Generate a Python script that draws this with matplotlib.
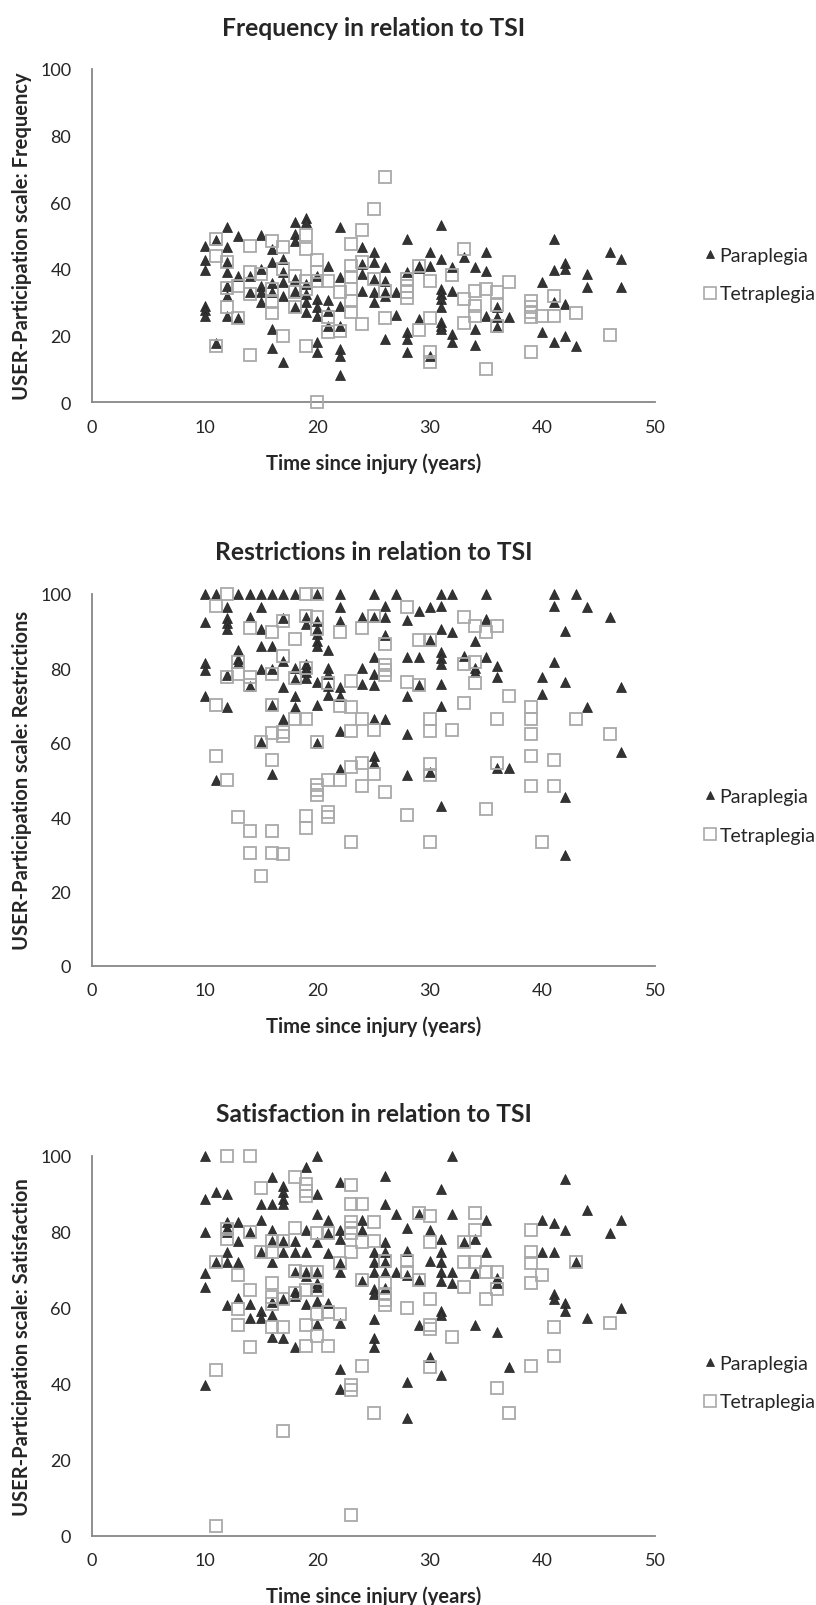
import matplotlib
matplotlib.use('Agg')
import matplotlib.pyplot as plt
from matplotlib.lines import Line2D

plt.rcParams['font.family'] = ['Lato', 'DejaVu Sans']

# time since injury (years) -> scores
freq_para = {
    10: [47, 42.7, 39.8, 29, 27.8, 25.8], 11: [48.7, 17.8],
    12: [52.5, 46.5, 42, 39, 35, 31.8, 25.8], 13: [50, 38, 25.2], 14: [38, 33],
    15: [50.3, 40, 35, 33, 30.2], 16: [46, 42, 35.8, 33, 22, 16.2],
    17: [43, 39, 36, 32, 12.2], 18: [54.2, 50.5, 48.5, 37, 33.5, 28.5],
    19: [55.2, 54, 35.5, 32.5, 30, 27], 20: [38, 31, 28.5, 26, 18, 15.2],
    21: [40.8, 30.8, 27.5, 23], 22: [52.5, 37.5, 29, 23, 16, 13.8, 8.2],
    24: [46.7, 41.5, 38.5, 33.5], 25: [45, 42, 37, 33, 30],
    26: [40.5, 36.5, 33, 32, 19], 27: [33.2, 26.2], 28: [49, 39, 21, 19, 15.2],
    29: [41, 40.2, 25], 30: [45, 40.8, 14],
    31: [53.3, 43, 34, 32.5, 31, 28.5, 24, 23, 22], 32: [40.5, 33.5, 20.5, 18.2],
    33: [43.5], 34: [40.5, 22, 17.2], 35: [45, 39.5, 26], 36: [28.5, 25.5, 22.5],
    37: [25.5], 40: [36, 21], 41: [49, 39.7, 30, 18], 42: [41.8, 40, 29.5, 19.8],
    43: [16.8], 44: [38.5, 34.5], 46: [45], 47: [43, 34.5],
}
freq_tetra = {
    11: [49, 44, 16.8], 12: [42, 34.2, 28.5], 13: [35, 25.2], 14: [47, 39, 32.5, 14.2],
    15: [38.5], 16: [48.5, 34, 30, 26.8], 17: [46.5, 40, 19.8], 18: [38, 33, 28.5],
    19: [50.3, 46, 36.5, 34, 16.8], 20: [42.8, 39, 36.5, 0], 21: [36.5, 25.5, 21],
    22: [33, 21.5], 23: [47.5, 41, 37.5, 34, 30.5, 27], 24: [51.8, 42, 23.5],
    25: [58, 37], 26: [67.5, 33.5, 25.2], 28: [37, 35, 33, 31.2], 29: [41, 21.8],
    30: [36.5, 25.2, 15.2, 12], 32: [38.2], 33: [46, 31, 23.8], 34: [33.5, 29, 26],
    35: [34, 10], 36: [33, 29.2, 23], 37: [36], 39: [30.5, 28.5, 27, 25.5, 15.2],
    40: [26], 41: [31.8, 26], 43: [26.7], 46: [20.2],
}
restr_para = {
    10: [100, 92.6, 81.4, 79.6, 72.6], 11: [100, 50],
    12: [96.4, 93.5, 92.3, 90.6, 78.3, 69.7], 13: [100, 84.8, 82.5, 81.4],
    14: [100, 93.7, 75.3], 15: [100, 96.4, 90.6, 86.1, 79.8, 60.3],
    16: [100, 86.1, 79.8, 70.1, 51.6], 17: [100, 93.5, 82, 74.9, 66.5],
    18: [100, 80, 77.1, 72.6, 69.7], 19: [93.7, 91.9, 81.2, 80, 78.9, 77.3],
    20: [100, 92.8, 90.6, 89.2, 87.4, 86.1, 76.4, 70.1, 59.9],
    21: [84.9, 80, 78.5, 75.3, 72.8], 22: [100, 96.4, 92.8, 74.9, 72.6, 63.2, 52.9],
    24: [93.7, 80, 75.8], 25: [100, 93.7, 83.1, 78.5, 75.5, 66.5, 56.5, 54.5],
    26: [96.7, 93.8, 89, 66.5], 27: [100], 28: [93.1, 83.1, 72.6, 62.3, 51.3],
    29: [95.5, 83.1, 75.5], 30: [96.4, 87.7, 52.2],
    31: [100, 96.9, 90.6, 84.5, 82.7, 81.2, 75.8, 69.8, 43], 32: [100, 89.9],
    33: [83.2], 34: [87.4, 80, 78.9], 35: [100, 93.3, 83.1], 36: [80.7, 77.6, 53.1],
    37: [53.1], 40: [77.6, 73.1], 41: [100, 96.9, 81.6], 42: [90.1, 76.4, 45.3, 29.8],
    43: [100], 44: [96.4, 69.5], 46: [93.7], 47: [74.9, 57.4],
}
restr_tetra = {
    11: [96.9, 70.1, 56.5], 12: [100, 77.8, 50], 13: [81.8, 78.5, 39.9],
    14: [90.8, 77.6, 75.5, 36.3, 30.3], 15: [60.1, 24.2],
    16: [89.9, 78.5, 70.1, 62.6, 55.3, 36.3, 30.3], 17: [92.8, 83.4, 63, 61.9, 30],
    18: [87.9, 77.3, 66.5], 19: [100, 94.2, 80, 66.5, 40.2, 37],
    20: [100, 93.7, 90.6, 60.1, 48.6, 47.4, 45.9], 21: [76.1, 50, 41.3, 39.9],
    22: [89.9, 70, 50], 23: [76.7, 69.5, 63.2, 53.4, 33.2], 24: [90.8, 66.5, 54.4, 48.4],
    25: [94, 63.5, 51.6], 26: [86.5, 80.9, 79.6, 78.2, 46.6], 28: [96.4, 76.4, 40.5],
    29: [87.7, 75.5], 30: [87.7, 66.5, 63.2, 54.3, 51.3, 33.2], 32: [63.4],
    33: [93.7, 81.3, 70.7], 34: [91.5, 81.8, 76.1], 35: [89.9, 42.2],
    36: [91.5, 66.5, 54.4], 37: [72.6], 39: [69.5, 66.5, 62.3, 56.5, 48.3],
    40: [33.2], 41: [55.4, 48.3], 43: [66.5], 46: [62.3],
}
satis_para = {
    10: [100, 88.6, 79.8, 69.1, 65.4, 39.6], 11: [90.5, 72.1],
    12: [89.9, 82.6, 80.9, 79.8, 74.6, 72.1, 60.7], 13: [82.5, 77.6, 72.1, 62.5],
    14: [79.8, 61, 57.2], 15: [87.3, 83.2, 74.6, 59.2, 57.2],
    16: [94.3, 87.3, 80.5, 77.6, 72.1, 61.4, 58.1, 52.2],
    17: [92.1, 90.4, 88.6, 87.3, 77.6, 74.6, 62.3, 51.9],
    18: [77.6, 74.6, 69.5, 64.5, 63.2, 49.6], 19: [96.9, 80.5, 74.6, 69.5, 68.4, 61],
    20: [100, 89.9, 84.6, 77.2, 69.5, 66.5, 65.4, 61.8, 55.7],
    21: [83.1, 79.6, 74.4, 61.2], 22: [93, 80.5, 78.1, 71.8, 69.5, 56.1, 44, 38.6],
    24: [83.2, 80.5, 67.1], 25: [74.6, 72.1, 69.5, 64.9, 63.6, 57, 51.9, 49.6],
    26: [94.7, 87.3, 77.2, 74.6, 72.1, 69.5, 65.1], 27: [84.6, 69.3],
    28: [80.9, 75, 68.6, 40.4, 31.1], 29: [84.6, 67.4, 55.4], 30: [80.5, 72.4, 46.9],
    31: [91.2, 78.1, 74.6, 71.9, 69.5, 67.1, 59.2, 58.1, 42.3],
    32: [100, 84.6, 69.3, 66.5], 33: [77.2], 34: [78.1, 69.1, 55.4], 35: [83.2, 74.7],
    36: [67.7, 66.5, 53.5], 37: [44.3], 40: [83.2, 74.7], 41: [82.3, 74.7, 63.6, 62.3],
    42: [94, 80.5, 61.2, 59.2], 43: [71.9], 44: [85.8, 57.2], 46: [79.6], 47: [83.2, 59.8],
}
satis_tetra = {
    11: [72.1, 43.7, 2.6], 12: [100, 80.7, 78.1], 13: [68.6, 59.6, 55.4],
    14: [100, 79.8, 64.7, 49.7], 15: [91.4, 74.7], 16: [77.6, 74.7, 66.5, 62.7, 61, 54.8],
    17: [77.6, 62.3, 54.8, 27.6], 18: [94.3, 81.1, 69.7, 63.9],
    19: [92.5, 90.8, 89.5, 69.3, 64.7, 55.4, 49.8], 20: [79.6, 69.3, 64.7, 58.3, 52.6],
    21: [79.6, 58.9, 49.8], 22: [71.8, 58.3],
    23: [92.3, 87.3, 82.5, 81.1, 79.6, 74.7, 39.6, 38.4, 5.4], 24: [87.3, 77.2, 67.4, 44.7],
    25: [82.5, 77.6, 32.3], 26: [72.4, 66.5, 63.5, 62, 60.8], 28: [72.4, 69.3, 59.8],
    29: [84.9, 67.4], 30: [84.2, 77.4, 62.3, 55.4, 54.4, 44.3], 32: [52.2],
    33: [77.4, 72.1, 65.4], 34: [84.9, 80.5, 72.1], 35: [69.3, 62.3],
    36: [69.3, 64.9, 38.8], 37: [32.3], 39: [80.5, 74.7, 71.8, 66.5, 44.7],
    40: [68.6], 41: [54.8, 47.2], 43: [71.9], 46: [56.1],
}

titles = ['Frequency in relation to TSI', 'Restrictions in relation to TSI',
          'Satisfaction in relation to TSI']
ylabels = ['USER-Participation scale: Frequency', 'USER-Participation scale: Restrictions',
           'USER-Participation scale: Satisfaction']
xlabel = 'Time since injury (years)'
series_labels = ['Paraplegia', 'Tetraplegia']

W, H = 816, 1606
# plot boxes in pixels: left, top, right, bottom
boxes = [(92, 70, 655, 403.3), (92, 595, 655, 966.7), (92, 1156.7, 655, 1536.7)]
legend_dy = [39, 36, 37]

TRI = '#333333'
SQ = '#a9a9a9'
AXIS = '#878787'
TXT = '#262626'


def flatten(d):
    xs, ys = [], []
    for t, vals in d.items():
        for v in vals:
            xs.append(t)
            ys.append(v)
    return xs, ys


fig = plt.figure(figsize=(W / 100, H / 100), dpi=100)

panels = [(freq_para, freq_tetra), (restr_para, restr_tetra), (satis_para, satis_tetra)]
for i, ((para, tetra), (l, t, r, b)) in enumerate(zip(panels, boxes)):
    ax = fig.add_axes([l / W, 1 - b / H, (r - l) / W, (b - t) / H])
    px, py = flatten(para)
    tx, ty = flatten(tetra)
    ax.plot(px, py, ls='none', marker='^', ms=7.4, mfc=TRI, mec='#222222', mew=0.5,
            clip_on=False, zorder=3)
    ax.plot(tx, ty, ls='none', marker='s', ms=8.8, mfc='none', mec=SQ, mew=1.3,
            clip_on=False, zorder=4)

    ax.set_xlim(0, 50)
    ax.set_ylim(0, 100)
    ax.set_xticks(range(0, 51, 10))
    ax.set_yticks(range(0, 101, 20))
    ax.tick_params(length=0, labelsize=13, colors=TXT)
    ax.tick_params(axis='x', pad=12)
    ax.tick_params(axis='y', pad=15)
    for side in ('top', 'right'):
        ax.spines[side].set_visible(False)
    for side in ('left', 'bottom'):
        ax.spines[side].set_color(AXIS)
        ax.spines[side].set_linewidth(1.3)

    cx = (l + r) / 2 / W
    fig.text(cx, 1 - (t - 42) / H, titles[i], ha='center', va='center',
             fontsize=17.7, fontweight='bold', color=TXT)
    fig.text(cx, 1 - (b + 60) / H, xlabel, ha='center', va='center',
             fontsize=14.5, fontweight='bold', color=TXT)
    fig.text(22 / W, 1 - (t + b) / 2 / H, ylabels[i], ha='center', va='center',
             rotation=90, fontsize=14.5, fontweight='bold', color=TXT)

    handles = [
        Line2D([], [], ls='none', marker='^', ms=6.2, mfc=TRI, mec='#222222', mew=0.5),
        Line2D([], [], ls='none', marker='s', ms=8, mfc='none', mec=SQ, mew=1.2),
    ]
    ly = (t + b) / 2 + legend_dy[i]
    fig.legend(handles, series_labels, loc='center left',
               bbox_to_anchor=(693 / W, 1 - ly / H), frameon=False,
               fontsize=14, handlelength=0.7, handletextpad=0.15,
               labelspacing=1.1, borderpad=0, labelcolor=TXT)

fig.savefig('out.png', dpi=100, facecolor='white')
